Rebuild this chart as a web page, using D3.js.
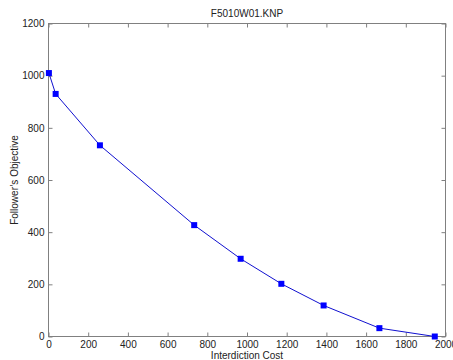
<!DOCTYPE html>
<html>
<head>
<meta charset="utf-8">
<script src="https://cdn.jsdelivr.net/npm/d3@7"></script>
<style>
  html, body { margin: 0; padding: 0; background: #fff; }
  svg { display: block; font-family: "Liberation Sans", Arial, sans-serif; }
</style>
</head>
<body>
<div id="chart"></div>
<script>
const costs = [2, 36, 259, 734, 968, 1173, 1386, 1667, 1946];
const objectives = [1010, 930, 733, 427, 298, 202, 119, 32, 0];
const xTicks = [0, 200, 400, 600, 800, 1000, 1200, 1400, 1600, 1800, 2000];
const yTicks = [0, 200, 400, 600, 800, 1000, 1200];

const W = 453, H = 360;
const m = { l: 48.5, r: 7.5, t: 23.5, b: 23.5 };

const svg = d3.select('#chart').append('svg').attr('width', W).attr('height', H);

const x = d3.scaleLinear().domain([0, 2000]).range([m.l, W - m.r]);
const y = d3.scaleLinear().domain([0, 1200]).range([H - m.b, m.t]);

const axisCol = '#808080';
const styleAxis = g => {
  g.select('.domain').remove();
  g.selectAll('.tick line').attr('stroke', axisCol);
  g.selectAll('.tick text').attr('fill', '#222').attr('font-size', 10).attr('font-family', '"Liberation Sans", Arial, sans-serif');
};

// box
svg.append('rect').attr('x', x(0)).attr('y', y(1200))
  .attr('width', x(2000) - x(0)).attr('height', y(0) - y(1200))
  .attr('fill', 'none').attr('stroke', axisCol).attr('stroke-width', 1);

svg.append('g').attr('transform', `translate(0,${y(0)})`)
  .call(d3.axisBottom(x).tickValues(xTicks).tickSize(-4).tickPadding(4).tickFormat(d3.format('d')))
  .call(styleAxis);
svg.append('g').attr('transform', `translate(0,${y(1200)})`)
  .call(d3.axisTop(x).tickValues(xTicks).tickSize(-4).tickFormat(''))
  .call(styleAxis);
svg.append('g').attr('transform', `translate(${x(0)},0)`)
  .call(d3.axisLeft(y).tickValues(yTicks).tickSize(-4).tickPadding(4).tickFormat(d3.format('d')))
  .call(styleAxis);
svg.append('g').attr('transform', `translate(${x(2000)},0)`)
  .call(d3.axisRight(y).tickValues(yTicks).tickSize(-4).tickFormat(''))
  .call(styleAxis);

const pts = costs.map((c, i) => ({ c, o: objectives[i] }));

svg.append('path').datum(pts)
  .attr('fill', 'none').attr('stroke', '#1010d0').attr('stroke-width', 1)
  .attr('d', d3.line().x(d => x(d.c)).y(d => y(d.o)));

svg.selectAll('rect.pt').data(pts).join('rect').attr('class', 'pt')
  .attr('x', d => x(d.c) - 3).attr('y', d => y(d.o) - 3)
  .attr('width', 6).attr('height', 6).attr('fill', '#0000ff');

svg.append('text').attr('x', (x(0) + x(2000)) / 2).attr('y', 17)
  .attr('text-anchor', 'middle').attr('font-size', 10).attr('fill', '#222')
  .text('F5010W01.KNP');

svg.append('text').attr('x', (x(0) + x(2000)) / 2).attr('y', 359)
  .attr('text-anchor', 'middle').attr('font-size', 10).attr('fill', '#222')
  .text('Interdiction Cost');

svg.append('text').attr('transform', `translate(18,${(y(0) + y(1200)) / 2}) rotate(-90)`)
  .attr('text-anchor', 'middle').attr('font-size', 10).attr('fill', '#222')
  .text('Follower\u2019s Objective');
</script>
</body>
</html>
